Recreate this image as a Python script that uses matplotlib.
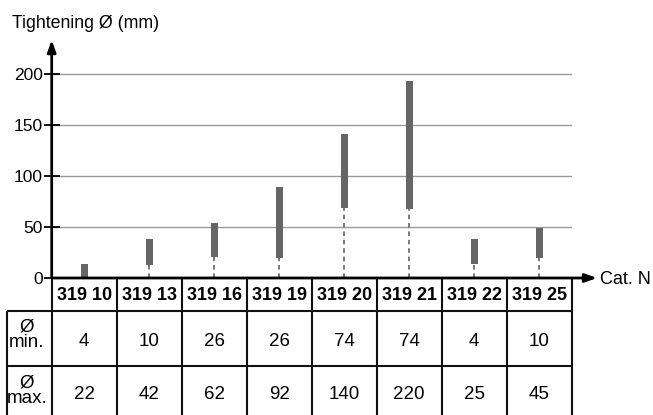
import matplotlib
matplotlib.use('Agg')
import matplotlib.pyplot as plt
from matplotlib.transforms import blended_transform_factory

# data
cat_nos = ['319 10', '319 13', '319 16', '319 19', '319 20', '319 21', '319 22', '319 25']
dia_min = [4, 10, 26, 26, 74, 74, 4, 10]
dia_max = [22, 42, 62, 92, 140, 220, 25, 45]
# bar ends as drawn in the picture (the drawing is not to scale with the table)
bar_low = [0, 13, 21, 20, 69, 68, 14, 20]
bar_high = [14, 38, 54, 89, 141, 193, 38, 49]
y_ticks = [0, 50, 100, 150, 200]

plt.rcParams['font.family'] = ['Liberation Sans', 'DejaVu Sans']

W, H = 653, 415
fig = plt.figure(figsize=(W / 100, H / 100), dpi=100)
ax = fig.add_axes([51.7 / W, 1 - 278 / H, 520 / W, 238 / H])

ymax = 233.3
ax.set_xlim(-0.5, 7.5)
ax.set_ylim(0, ymax)
for s in ax.spines.values():
    s.set_visible(False)

ax.set_xticks([])
ax.set_yticks(y_ticks)
ax.tick_params(axis='y', direction='inout', length=11, width=1.3, pad=1, labelsize=12.5)
ax.yaxis.grid(True, color='#999999', lw=1)
ax.set_axisbelow(True)

x = list(range(len(cat_nos)))
heights = [h - l for l, h in zip(bar_low, bar_high)]
ax.bar(x, heights, bottom=bar_low, width=0.105, color='#666666', zorder=3)

# dashed lines from bar bottom down to the axis
dx = [xi for xi, l in zip(x, bar_low) if l > 0]
dl = [l for l in bar_low if l > 0]
ax.vlines(dx, 0, dl, colors='#555555', linestyles=(0, (3, 2.5)), lw=1.1, zorder=2)

# axes with arrows
arrow = dict(arrowstyle='-|>,head_length=0.7,head_width=0.25', lw=2, color='black',
             shrinkA=0, shrinkB=0)
ax.annotate('', xy=(-0.5, ymax), xytext=(-0.5, 0), arrowprops=arrow, annotation_clip=False)
ax.annotate('', xy=(7.89, 0), xytext=(-0.5, 0), arrowprops=arrow, annotation_clip=False)


def fy(px):
    return 1 - px / H


tr = blended_transform_factory(ax.transData, fig.transFigure)
lab_left = -1.188
line = dict(color='#111111', lw=1.5, transform=tr, clip_on=False, solid_capstyle='butt')

# table grid
for i in range(len(cat_nos) + 1):
    ax.plot([i - 0.5, i - 0.5], [fy(278), fy(415)], **line)
ax.plot([lab_left, lab_left], [fy(310.7), fy(415)], **line)
for yp in [310.7, 366]:
    ax.plot([lab_left, 7.5], [fy(yp), fy(yp)], **line)

# table text
for i, c in enumerate(cat_nos):
    ax.text(i, fy(295), c, transform=tr, ha='center', va='center', fontsize=13,
            fontweight='bold')
    ax.text(i, fy(341), str(dia_min[i]), transform=tr, ha='center', va='center', fontsize=13.5)
    ax.text(i, fy(394), str(dia_max[i]), transform=tr, ha='center', va='center', fontsize=13.5)

ax.text(-0.88, fy(335), 'Ø\nmin.', transform=tr, ha='center', va='center', fontsize=13.5,
        linespacing=0.85)
ax.text(-0.88, fy(391), 'Ø\nmax.', transform=tr, ha='center', va='center', fontsize=13.5,
        linespacing=0.85)

fig.text(12 / W, fy(28), 'Tightening Ø (mm)', va='baseline', fontsize=12.8)
fig.text(600 / W, fy(284), 'Cat. N', va='baseline', fontsize=13)

fig.savefig('out.png', dpi=100)
